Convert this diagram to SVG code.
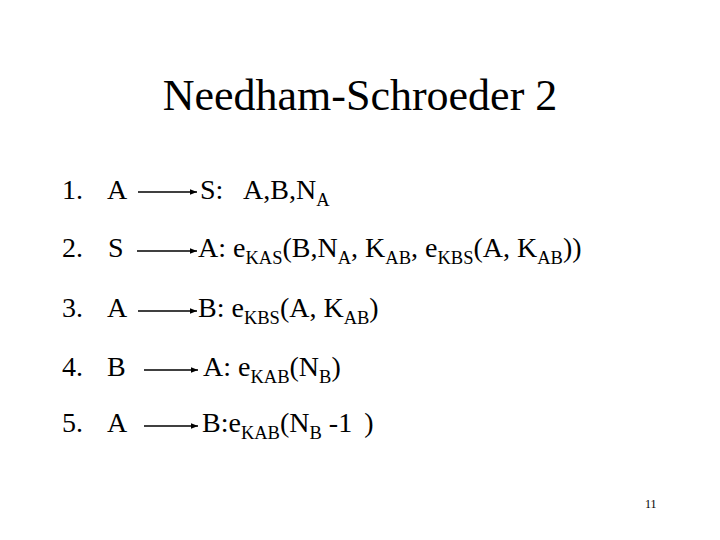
<svg xmlns="http://www.w3.org/2000/svg" width="720" height="540" viewBox="0 0 720 540">
<style>
text{font-family:"Liberation Serif","Times New Roman",serif;fill:#000}
.t{font-size:44px}
.m{font-size:28px}
.s{font-size:18.5px}
.pg{font-size:12px}
.c{stroke:#000;stroke-width:1.6;fill:none}
</style>
<defs>
<marker id="ah" viewBox="0 0 10 10" refX="10" refY="5" markerWidth="7" markerHeight="7" markerUnits="userSpaceOnUse" orient="auto">
<path d="M0,1 L10,5 L0,9 Z" fill="#000"/>
</marker>
</defs>
<rect width="720" height="540" fill="#fff"/>
<g id="title"><text class="t" x="360" y="110" text-anchor="middle">Needham-Schroeder 2</text></g>
<g id="step1">
<text class="m" x="62" y="199">1.</text>
<text class="m" x="107" y="199">A</text>
<text class="m" x="200" y="199">S:</text>
<text class="m" x="243" y="199">A,B,N<tspan class="s" dy="7">A</tspan></text>
</g>
<g id="step2">
<text class="m" x="62" y="257">2.</text>
<text class="m" x="108" y="257">S</text>
<text class="m" x="198" y="257">A: e<tspan class="s" dy="7">KAS</tspan><tspan dy="-7">(B,N</tspan><tspan class="s" dy="7">A</tspan><tspan dy="-7">, K</tspan><tspan class="s" dy="7">AB</tspan><tspan dy="-7">, e</tspan><tspan class="s" dy="7">KBS</tspan><tspan dy="-7">(A, K</tspan><tspan class="s" dy="7">AB</tspan><tspan dy="-7">))</tspan></text>
</g>
<g id="step3">
<text class="m" x="62" y="317">3.</text>
<text class="m" x="107" y="317">A</text>
<text class="m" x="198" y="317">B: e<tspan class="s" dy="7">KBS</tspan><tspan dy="-7">(A, K</tspan><tspan class="s" dy="7">AB</tspan><tspan dy="-7">)</tspan></text>
</g>
<g id="step4">
<text class="m" x="62" y="376">4.</text>
<text class="m" x="107" y="376">B</text>
<text class="m" x="203" y="376">A: e<tspan class="s" dy="7">KAB</tspan><tspan dy="-7">(N</tspan><tspan class="s" dy="7">B</tspan><tspan dy="-7">)</tspan></text>
</g>
<g id="step5">
<text class="m" x="62" y="432">5.</text>
<text class="m" x="107" y="432">A</text>
<text class="m" x="202" y="432">B:e<tspan class="s" dy="7">KAB</tspan><tspan dy="-7">(N</tspan><tspan class="s" dy="7">B</tspan><tspan dy="-7"> -1</tspan><tspan dx="5"> )</tspan></text>
</g>
<g id="page"><text class="pg" x="645" y="508">11</text></g>
<g id="connectors" class="c">
<line x1="138" y1="192" x2="197" y2="192" marker-end="url(#ah)"/>
<line x1="137" y1="251" x2="197" y2="251" marker-end="url(#ah)"/>
<line x1="138" y1="311" x2="197" y2="311" marker-end="url(#ah)"/>
<line x1="144" y1="370" x2="198" y2="370" marker-end="url(#ah)"/>
<line x1="144" y1="426" x2="198" y2="426" marker-end="url(#ah)"/>
</g>
</svg>
